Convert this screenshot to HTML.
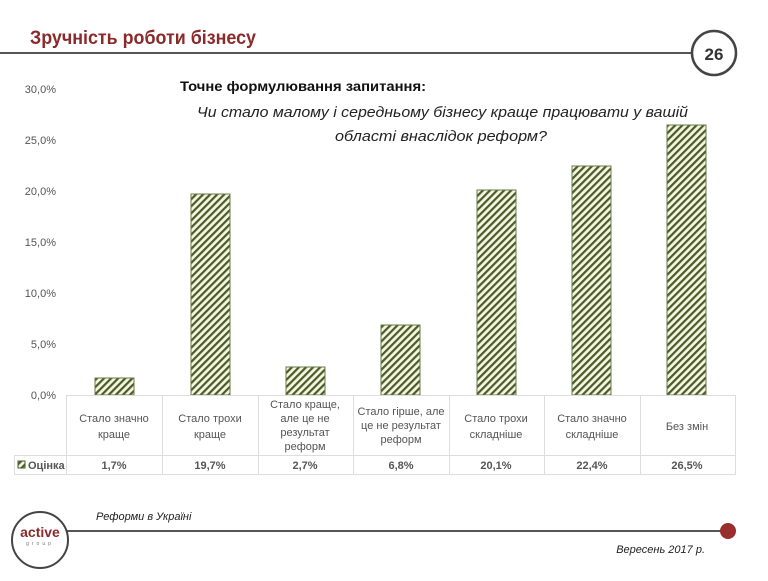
<!DOCTYPE html>
<html><head><meta charset="utf-8"><style>
body{margin:0;background:#fff;}
svg text{font-family:"Liberation Sans",sans-serif;}
</style></head><body>
<svg width="768" height="576" viewBox="0 0 768 576" xmlns="http://www.w3.org/2000/svg">
<defs>
<pattern id="p" width="5" height="5" patternUnits="userSpaceOnUse" patternTransform="rotate(45)">
<rect width="5" height="5" fill="#f4f6e0"/>
<rect width="2.2" height="5" fill="#4b5a2a"/>
</pattern>
</defs>
<text x="30" y="44" font-size="19" font-weight="bold" fill="#8b2a2a" textLength="226" lengthAdjust="spacingAndGlyphs">Зручність роботи бізнесу</text>
<line x1="0" y1="53" x2="692" y2="53" stroke="#555" stroke-width="2"/>
<circle cx="714" cy="53" r="22" fill="#fff" stroke="#444" stroke-width="2.5"/>
<text x="714" y="60" font-size="17" font-weight="bold" fill="#333" text-anchor="middle">26</text>
<text x="180" y="91" font-size="14" font-weight="bold" fill="#111" textLength="246" lengthAdjust="spacingAndGlyphs">Точне формулювання запитання:</text>
<text x="197" y="117" font-size="15" font-style="italic" fill="#222" textLength="491" lengthAdjust="spacingAndGlyphs">Чи стало малому і середньому бізнесу краще працювати у вашій</text>
<text x="335" y="141" font-size="15" font-style="italic" fill="#222" textLength="212" lengthAdjust="spacingAndGlyphs">області внаслідок реформ?</text>
<g font-size="11" fill="#555" text-anchor="end">
<text x="56" y="93">30,0%</text><text x="56" y="144">25,0%</text><text x="56" y="195">20,0%</text>
<text x="56" y="246">15,0%</text><text x="56" y="297">10,0%</text><text x="56" y="348">5,0%</text><text x="56" y="399">0,0%</text>
</g>
<g fill="url(#p)" stroke="#6b7a4a" stroke-width="1">
<rect x="95" y="378" width="39" height="17"/>
<rect x="191" y="194" width="39" height="201"/>
<rect x="286" y="367" width="39" height="28"/>
<rect x="381" y="325" width="39" height="70"/>
<rect x="477" y="190" width="39" height="205"/>
<rect x="572" y="166" width="39" height="229"/>
<rect x="667" y="125" width="39" height="270"/>
</g>
<g stroke="#ddd" stroke-width="1" fill="none">
<line x1="66" y1="395.5" x2="735" y2="395.5"/>
<line x1="14" y1="455.5" x2="735" y2="455.5"/>
<line x1="14" y1="474.5" x2="735" y2="474.5"/>
<line x1="14.5" y1="455" x2="14.5" y2="475"/>
<line x1="66.5" y1="395" x2="66.5" y2="475"/>
<line x1="162.5" y1="395" x2="162.5" y2="475"/>
<line x1="258.5" y1="395" x2="258.5" y2="475"/>
<line x1="353.5" y1="395" x2="353.5" y2="475"/>
<line x1="449.5" y1="395" x2="449.5" y2="475"/>
<line x1="544.5" y1="395" x2="544.5" y2="475"/>
<line x1="640.5" y1="395" x2="640.5" y2="475"/>
<line x1="735.5" y1="395" x2="735.5" y2="475"/>
</g>
<g font-size="11" fill="#555" text-anchor="middle">
<text x="114" y="422">Стало значно</text><text x="114" y="438">краще</text>
<text x="210" y="422">Стало трохи</text><text x="210" y="438">краще</text>
<text x="305" y="408">Стало краще,</text><text x="305" y="422">але це не</text><text x="305" y="436">результат</text><text x="305" y="450">реформ</text>
<text x="401" y="415">Стало гірше, але</text><text x="401" y="429">це не результат</text><text x="401" y="443">реформ</text>
<text x="496" y="422">Стало трохи</text><text x="496" y="438">складніше</text>
<text x="592" y="422">Стало значно</text><text x="592" y="438">складніше</text>
<text x="687" y="430">Без змін</text>
<g font-weight="bold">
<text x="114" y="469">1,7%</text><text x="210" y="469">19,7%</text><text x="305" y="469">2,7%</text>
<text x="401" y="469">6,8%</text><text x="496" y="469">20,1%</text><text x="592" y="469">22,4%</text><text x="687" y="469">26,5%</text>
</g>
</g>
<rect x="18" y="461" width="7" height="7" fill="url(#p)" stroke="#4b5a2a"/>
<text x="28" y="469" font-size="11" font-weight="bold" fill="#555">Оцінка</text>
<line x1="57" y1="531" x2="728" y2="531" stroke="#555" stroke-width="2"/>
<circle cx="40" cy="540" r="28" fill="#fff" stroke="#444" stroke-width="2"/>
<text x="40" y="537" font-size="14" font-weight="bold" fill="#8b2a2a" text-anchor="middle">active</text>
<text x="40" y="545" font-size="5" fill="#777" text-anchor="middle" letter-spacing="3">group</text>
<circle cx="728" cy="531" r="8" fill="#9a2e2e"/>
<text x="96" y="520" font-size="11" font-style="italic" fill="#222">Реформи в Україні</text>
<text x="705" y="553" font-size="11" font-style="italic" fill="#222" text-anchor="end">Вересень 2017 р.</text>
</svg>
</body></html>
